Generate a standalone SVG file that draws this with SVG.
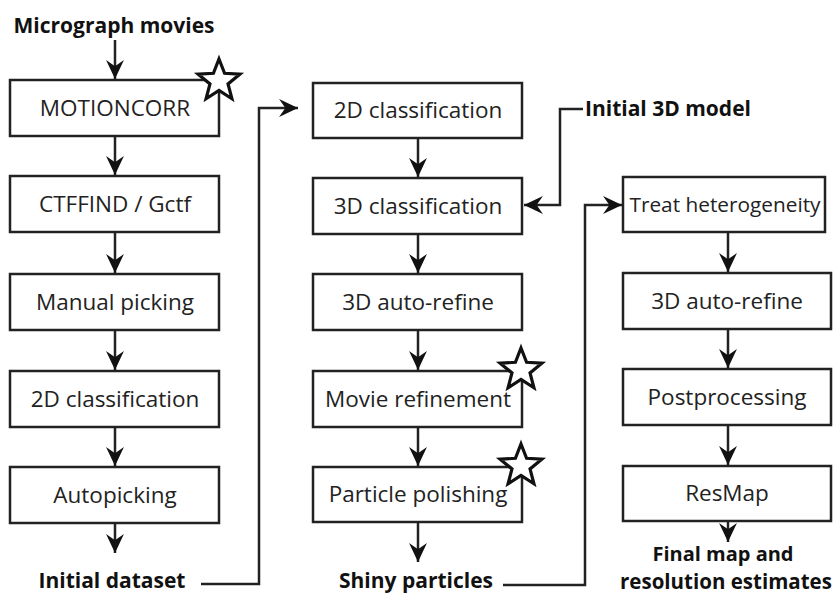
<svg xmlns="http://www.w3.org/2000/svg" width="834" height="595" viewBox="0 0 834 595">
<style>
.box{fill:#fff;stroke:#222;stroke-width:2.5}
.lbl{font-family:"Open Sans","Liberation Sans",sans-serif;font-size:22.5px;fill:#222;text-anchor:middle}
.bold{font-family:"Open Sans","Liberation Sans",sans-serif;font-size:21px;font-weight:bold;fill:#111;text-anchor:middle}
.con{fill:none;stroke:#222;stroke-width:2.5}
.star{fill:#fff;stroke:#111;stroke-width:3.2;stroke-linejoin:miter}
</style>
<defs>
<marker id="ah" markerUnits="userSpaceOnUse" markerWidth="20" markerHeight="20" viewBox="-18 -9 19 18" refX="0" refY="0" orient="auto">
<path d="M0,0 L-18,-8.5 L-12,0 L-18,8.5 Z" fill="#111"/>
</marker>
<path id="starShape" d="M0,-22 L5.58,-7.69 L20.92,-6.8 L9.03,2.94 L12.93,17.8 L0,9.5 L-12.93,17.8 L-9.03,2.94 L-20.92,-6.8 L-5.58,-7.69 Z"/>
</defs>
<rect width="834" height="595" fill="#fff"/>

<g id="connectors">
<line class="con" x1="115" y1="40" x2="115" y2="79" marker-end="url(#ah)"/>
<line class="con" x1="115" y1="136" x2="115" y2="175" marker-end="url(#ah)"/>
<line class="con" x1="115" y1="232" x2="115" y2="273" marker-end="url(#ah)"/>
<line class="con" x1="115" y1="330" x2="115" y2="370" marker-end="url(#ah)"/>
<line class="con" x1="115" y1="427" x2="115" y2="466" marker-end="url(#ah)"/>
<line class="con" x1="115" y1="523" x2="115" y2="553" marker-end="url(#ah)"/>
<polyline class="con" points="201,584 259,584 259,108 298,108" marker-end="url(#ah)"/>
<line class="con" x1="418" y1="138" x2="418" y2="177" marker-end="url(#ah)"/>
<line class="con" x1="418" y1="234" x2="418" y2="273" marker-end="url(#ah)"/>
<line class="con" x1="418" y1="330" x2="418" y2="370" marker-end="url(#ah)"/>
<line class="con" x1="418" y1="427" x2="418" y2="466" marker-end="url(#ah)"/>
<line class="con" x1="418" y1="522" x2="418" y2="562" marker-end="url(#ah)"/>
<polyline class="con" points="583,109 560,109 560,205 524,205" marker-end="url(#ah)"/>
<polyline class="con" points="503,585 585,585 585,205 622,205" marker-end="url(#ah)"/>
<line class="con" x1="728" y1="232" x2="728" y2="272" marker-end="url(#ah)"/>
<line class="con" x1="728" y1="329" x2="728" y2="368" marker-end="url(#ah)"/>
<line class="con" x1="728" y1="425" x2="728" y2="465" marker-end="url(#ah)"/>
<line class="con" x1="728" y1="521" x2="728" y2="542" marker-end="url(#ah)"/>
</g>

<g id="micrograph-movies"><text class="bold" x="114" y="33">Micrograph movies</text></g>
<g id="motioncorr"><rect class="box" x="10" y="80" width="209" height="56"/><text class="lbl" x="115" y="116">MOTIONCORR</text><use href="#starShape" class="star" transform="translate(219,81)"/></g>
<g id="ctffind"><rect class="box" x="10" y="176" width="209" height="56"/><text class="lbl" x="115" y="212">CTFFIND / Gctf</text></g>
<g id="manual-picking"><rect class="box" x="10" y="274" width="209" height="56"/><text class="lbl" x="115" y="310">Manual picking</text></g>
<g id="class2d-a"><rect class="box" x="10" y="371" width="209" height="56"/><text class="lbl" x="115" y="407">2D classification</text></g>
<g id="autopicking"><rect class="box" x="10" y="467" width="209" height="56"/><text class="lbl" x="115" y="503">Autopicking</text></g>
<g id="initial-dataset"><text class="bold" x="112" y="588">Initial dataset</text></g>

<g id="class2d-b"><rect class="box" x="313" y="83" width="209" height="55"/><text class="lbl" x="418" y="118">2D classification</text></g>
<g id="class3d"><rect class="box" x="313" y="178" width="209" height="56"/><text class="lbl" x="418" y="214">3D classification</text></g>
<g id="autorefine-a"><rect class="box" x="313" y="274" width="209" height="56"/><text class="lbl" x="418" y="310">3D auto-refine</text></g>
<g id="movie-refinement"><rect class="box" x="313" y="371" width="209" height="56"/><text class="lbl" x="418" y="407">Movie  refinement</text><use href="#starShape" class="star" transform="translate(521,370)"/></g>
<g id="particle-polishing"><rect class="box" x="313" y="467" width="209" height="55"/><text class="lbl" x="418" y="502">Particle polishing</text><use href="#starShape" class="star" transform="translate(521,466)"/></g>
<g id="shiny-particles"><text class="bold" x="416" y="588">Shiny particles</text></g>
<g id="initial-3d-model"><text class="bold" x="585" y="116" style="text-anchor:start">Initial 3D model</text></g>

<g id="treat-heterogeneity"><rect class="box" x="623" y="177" width="202" height="55"/><text class="lbl" x="725" y="212" style="font-size:20.8px">Treat heterogeneity</text></g>
<g id="autorefine-b"><rect class="box" x="623" y="273" width="208" height="56"/><text class="lbl" x="727" y="309">3D auto-refine</text></g>
<g id="postprocessing"><rect class="box" x="623" y="369" width="208" height="56"/><text class="lbl" x="727" y="405">Postprocessing</text></g>
<g id="resmap"><rect class="box" x="623" y="466" width="208" height="55"/><text class="lbl" x="727" y="501">ResMap</text></g>
<g id="final-map"><text class="bold" x="723" y="561" style="font-size:20px">Final map and</text><text class="bold" x="726" y="589" style="font-size:20.5px">resolution estimates</text></g>
</svg>
